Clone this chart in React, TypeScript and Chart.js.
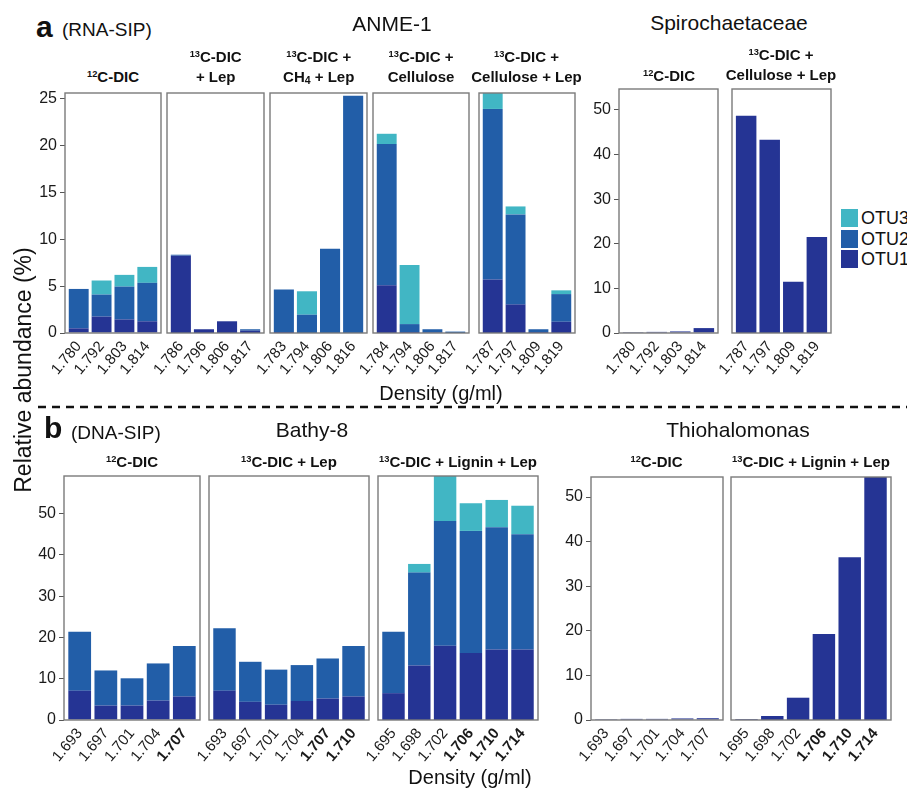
import React, { useEffect, useRef } from "react";
import { Chart, registerables } from "chart.js";
Chart.register(...registerables);

const FONT = '"Liberation Sans", Arial, Helvetica, sans-serif';
const C_OTU1 = "#253494";
const C_OTU2 = "#225ea8";
const C_OTU3 = "#41b6c4";

// ---------- ANME-1 (RNA-SIP) ----------
const anmeA_labels = ["1.780", "1.792", "1.803", "1.814"];
const anmeA_otu1 = [0.5, 1.75, 1.45, 1.25];
const anmeA_otu2 = [4.2, 2.35, 3.5, 4.1];
const anmeA_otu3 = [0, 1.5, 1.25, 1.7];

const anmeB_labels = ["1.786", "1.796", "1.806", "1.817"];
const anmeB_otu1 = [8.25, 0.4, 1.25, 0.25];
const anmeB_otu2 = [0.1, 0, 0, 0.15];
const anmeB_otu3 = [0, 0, 0, 0];

const anmeC_labels = ["1.783", "1.794", "1.806", "1.816"];
const anmeC_otu1 = [0.1, 0, 0, 0];
const anmeC_otu2 = [4.55, 1.95, 9.0, 25.3];
const anmeC_otu3 = [0, 2.5, 0, 0];

const anmeD_labels = ["1.784", "1.794", "1.806", "1.817"];
const anmeD_otu1 = [5.1, 0.1, 0.05, 0];
const anmeD_otu2 = [15.05, 0.85, 0.35, 0.15];
const anmeD_otu3 = [1.1, 6.3, 0, 0];

const anmeE_labels = ["1.787", "1.797", "1.809", "1.819"];
const anmeE_otu1 = [5.7, 3.05, 0.1, 1.2];
const anmeE_otu2 = [18.2, 9.6, 0.3, 2.95];
const anmeE_otu3 = [2.6, 0.85, 0, 0.4];

// ---------- Spirochaetaceae (RNA-SIP) ----------
const spiroA_labels = ["1.780", "1.792", "1.803", "1.814"];
const spiroA_otu1 = [0.2, 0.25, 0.35, 1.1];
const spiroB_labels = ["1.787", "1.797", "1.809", "1.819"];
const spiroB_otu1 = [48.7, 43.3, 11.5, 21.5];

// ---------- Bathy-8 (DNA-SIP) ----------
const bathyA_labels = ["1.693", "1.697", "1.701", "1.704", "1.707"];
const bathyA_otu1 = [7.1, 3.5, 3.5, 4.7, 5.7];
const bathyA_otu2 = [14.3, 8.5, 6.6, 9.0, 12.2];
const bathyA_bold = [4];

const bathyB_labels = ["1.693", "1.697", "1.701", "1.704", "1.707", "1.710"];
const bathyB_otu1 = [7.1, 4.4, 3.7, 4.6, 5.2, 5.7];
const bathyB_otu2 = [15.1, 9.7, 8.5, 8.7, 9.7, 12.2];
const bathyB_bold = [4, 5];

const bathyC_labels = ["1.695", "1.698", "1.702", "1.706", "1.710", "1.714"];
const bathyC_otu1 = [6.5, 13.2, 18.0, 16.2, 17.1, 17.1];
const bathyC_otu2 = [14.9, 22.5, 30.2, 29.6, 29.6, 27.9];
const bathyC_otu3 = [0, 2.1, 11.5, 6.7, 6.6, 6.9];
const bathyC_bold = [3, 4, 5];

// ---------- Thiohalomonas (DNA-SIP) ----------
const thioA_labels = ["1.693", "1.697", "1.701", "1.704", "1.707"];
const thioA_otu1 = [0.2, 0.25, 0.25, 0.35, 0.4];
const thioB_labels = ["1.695", "1.698", "1.702", "1.706", "1.710", "1.714"];
const thioB_otu1 = [0.15, 0.9, 5.0, 19.3, 36.5, 56.0];
const thioB_bold = [3, 4, 5];

const zeros = (n: number) => new Array(n).fill(0);

type Spec = {
  x0: number; x1: number; y0: number; y1: number;
  ymax: number; step: number; showY: boolean;
  labels: string[]; otu1: number[]; otu2: number[]; otu3: number[]; bold: number[];
};

const YW = 44, PT = 3, PR = 3, XH = 75;

const panels: Spec[] = [
  { x0: 65, x1: 161.3, y0: 92.7, y1: 332.5, ymax: 25.6, step: 5, showY: true, labels: anmeA_labels, otu1: anmeA_otu1, otu2: anmeA_otu2, otu3: anmeA_otu3, bold: [] },
  { x0: 167.3, x1: 264, y0: 92.7, y1: 332.5, ymax: 25.6, step: 5, showY: false, labels: anmeB_labels, otu1: anmeB_otu1, otu2: anmeB_otu2, otu3: anmeB_otu3, bold: [] },
  { x0: 270.3, x1: 367, y0: 92.7, y1: 332.5, ymax: 25.6, step: 5, showY: false, labels: anmeC_labels, otu1: anmeC_otu1, otu2: anmeC_otu2, otu3: anmeC_otu3, bold: [] },
  { x0: 373, x1: 469.3, y0: 92.7, y1: 332.5, ymax: 25.6, step: 5, showY: false, labels: anmeD_labels, otu1: anmeD_otu1, otu2: anmeD_otu2, otu3: anmeD_otu3, bold: [] },
  { x0: 478.5, x1: 574.5, y0: 92.7, y1: 332.5, ymax: 25.6, step: 5, showY: false, labels: anmeE_labels, otu1: anmeE_otu1, otu2: anmeE_otu2, otu3: anmeE_otu3, bold: [] },
  { x0: 619.3, x1: 718.7, y0: 89.3, y1: 333.3, ymax: 54.7, step: 10, showY: true, labels: spiroA_labels, otu1: spiroA_otu1, otu2: zeros(4), otu3: zeros(4), bold: [] },
  { x0: 731.7, x1: 830.7, y0: 89.3, y1: 333.3, ymax: 54.7, step: 10, showY: false, labels: spiroB_labels, otu1: spiroB_otu1, otu2: zeros(4), otu3: zeros(4), bold: [] },
  { x0: 64, x1: 200, y0: 476, y1: 720, ymax: 59.1, step: 10, showY: true, labels: bathyA_labels, otu1: bathyA_otu1, otu2: bathyA_otu2, otu3: zeros(5), bold: bathyA_bold },
  { x0: 209, x1: 369.3, y0: 476, y1: 720, ymax: 59.1, step: 10, showY: false, labels: bathyB_labels, otu1: bathyB_otu1, otu2: bathyB_otu2, otu3: zeros(6), bold: bathyB_bold },
  { x0: 378.3, x1: 538.3, y0: 476, y1: 720, ymax: 59.1, step: 10, showY: false, labels: bathyC_labels, otu1: bathyC_otu1, otu2: bathyC_otu2, otu3: bathyC_otu3, bold: bathyC_bold },
  { x0: 590.7, x1: 722.3, y0: 477, y1: 720, ymax: 54.5, step: 10, showY: true, labels: thioA_labels, otu1: thioA_otu1, otu2: zeros(5), otu3: zeros(5), bold: [] },
  { x0: 731, x1: 891, y0: 477, y1: 720, ymax: 54.5, step: 10, showY: false, labels: thioB_labels, otu1: thioB_otu1, otu2: zeros(6), otu3: zeros(6), bold: thioB_bold },
];

const boxPlugin = {
  id: "panelBox",
  afterDatasetsDraw(c: any) {
    const a = c.chartArea;
    const ctx = c.ctx;
    ctx.save();
    ctx.strokeStyle = "#7a7a7a";
    ctx.lineWidth = 1.4;
    ctx.strokeRect(a.left, a.top, a.right - a.left, a.bottom - a.top);
    ctx.restore();
  },
};

function Panel({ spec }: { spec: Spec }) {
  const ref = useRef<HTMLCanvasElement>(null);
  const left = Math.round(spec.x0 - YW);
  const top = Math.round(spec.y0 - PT);
  const w = Math.round(spec.x1 - spec.x0) + YW + PR;
  const h = Math.round(spec.y1 - spec.y0) + PT + XH;
  useEffect(() => {
    const n = spec.labels.length;
    const mk = (label: string, vals: number[], color: string) => ({
      label,
      data: vals.map((v, i) => ({ x: i, y: v })),
      backgroundColor: color,
      borderWidth: 0,
      barPercentage: 0.87,
      categoryPercentage: 1,
      clip: 0,
    });
    const chart = new Chart(ref.current as HTMLCanvasElement, {
      type: "bar",
      data: {
        datasets: [
          mk("OTU1", spec.otu1, C_OTU1),
          mk("OTU2", spec.otu2, C_OTU2),
          mk("OTU3", spec.otu3, C_OTU3),
        ] as any,
      },
      options: {
        responsive: false,
        animation: false,
        devicePixelRatio: 1,
        layout: { padding: { top: PT, right: PR, left: 0, bottom: 0 } },
        plugins: { legend: { display: false }, tooltip: { enabled: false } },
        scales: {
          x: {
            type: "linear",
            stacked: true,
            offset: false,
            bounds: "data",
            min: -0.6,
            max: n - 0.4,
            afterBuildTicks: (s: any) => {
              s.ticks = spec.labels.map((_, i) => ({ value: i }));
              s.min = -0.6;
              s.max = n - 0.4;
            },
            afterFit: (s: any) => {
              s.height = XH;
              s.paddingLeft = 0;
              s.paddingRight = 0;
            },
            grid: { display: false, drawTicks: false, offset: false },
            border: { display: false },
            ticks: {
              autoSkip: false,
              minRotation: 50,
              maxRotation: 50,
              padding: 5,
              color: "#1a1a1a",
              callback: (_v: any, i: number) => spec.labels[i],
              font: (ctx: any) => ({
                family: FONT,
                size: 15,
                weight: spec.bold.includes(ctx.index) ? "bold" : "normal",
              }),
            },
          },
          y: {
            stacked: true,
            min: 0,
            max: spec.ymax,
            afterFit: (s: any) => {
              s.width = YW;
              s.paddingTop = 0;
              s.paddingBottom = 0;
            },
            grid: {
              display: spec.showY,
              drawOnChartArea: false,
              drawTicks: true,
              tickLength: 5,
              color: "#555",
              lineWidth: 1,
            },
            border: { display: false },
            ticks: {
              display: spec.showY,
              stepSize: spec.step,
              includeBounds: false,
              padding: 3,
              color: "#1a1a1a",
              font: { family: FONT, size: 16 },
            },
          },
        },
      } as any,
      plugins: [boxPlugin],
    });
    return () => chart.destroy();
  }, []);
  return (
    <canvas
      ref={ref}
      width={w}
      height={h}
      style={{ position: "absolute", left, top, width: w, height: h }}
    />
  );
}

const supStyle: React.CSSProperties = { fontSize: "0.62em", verticalAlign: "0.55em", lineHeight: 0 };
const subStyle: React.CSSProperties = { fontSize: "0.7em", verticalAlign: "-0.15em", lineHeight: 0 };
const S12 = <sup style={supStyle}>12</sup>;
const S13 = <sup style={supStyle}>13</sup>;

function Txt({ x, y, children, size = 15, bold = false, anchor = "center" }: any) {
  const tx = anchor === "center" ? "-50%" : anchor === "left" ? "0" : "-100%";
  return (
    <div
      style={{
        position: "absolute",
        left: x,
        top: y,
        transform: `translate(${tx}, -50%)`,
        fontFamily: FONT,
        fontSize: size,
        fontWeight: bold ? "bold" : "normal",
        whiteSpace: "nowrap",
        textAlign: "center",
        lineHeight: "20px",
        color: "#111",
      }}
    >
      {children}
    </div>
  );
}

export default function App() {
  return (
    <div
      style={{
        position: "absolute",
        left: 0,
        top: 0,
        width: 907,
        height: 795,
        overflow: "hidden",
        background: "#fff",
      }}
    >
      {panels.map((p, i) => (
        <Panel key={i} spec={p} />
      ))}

      {/* panel a header */}
      <Txt x={36} y={27} size={30} bold anchor="left">a</Txt>
      <Txt x={62} y={30} size={19} anchor="left">(RNA-SIP)</Txt>
      <Txt x={392} y={24} size={21}>ANME-1</Txt>
      <Txt x={729} y={23} size={21}>Spirochaetaceae</Txt>

      <Txt x={113} y={77} bold>{S12}C-DIC</Txt>
      <Txt x={215.7} y={67} bold>{S13}C-DIC<br />+ Lep</Txt>
      <Txt x={318.7} y={67} bold>{S13}C-DIC +<br />CH<sub style={subStyle}>4</sub> + Lep</Txt>
      <Txt x={421} y={67} bold>{S13}C-DIC +<br />Cellulose</Txt>
      <Txt x={526.5} y={67} bold>{S13}C-DIC +<br />Cellulose + Lep</Txt>
      <Txt x={669} y={76} bold>{S12}C-DIC</Txt>
      <Txt x={781} y={65} bold>{S13}C-DIC +<br />Cellulose + Lep</Txt>

      <Txt x={441} y={393} size={20}>Density (g/ml)</Txt>

      {/* legend */}
      {[
        ["OTU3", C_OTU3, 218],
        ["OTU2", C_OTU2, 238.5],
        ["OTU1", C_OTU1, 259],
      ].map(([t, c, y]: any) => (
        <React.Fragment key={t}>
          <div style={{ position: "absolute", left: 841, top: y - 9, width: 17, height: 18, background: c }} />
          <Txt x={861} y={y} size={18} anchor="left">{t}</Txt>
        </React.Fragment>
      ))}

      {/* dashed separator */}
      <svg style={{ position: "absolute", left: 0, top: 0 }} width={907} height={795}>
        <line x1={38} y1={407} x2={907} y2={407} stroke="#111" strokeWidth={2.5} strokeDasharray="8 6" />
      </svg>

      {/* panel b header */}
      <Txt x={44} y={428} size={30} bold anchor="left">b</Txt>
      <Txt x={71} y={433} size={19} anchor="left">(DNA-SIP)</Txt>
      <Txt x={312} y={430} size={21}>Bathy-8</Txt>
      <Txt x={738} y={430} size={21}>Thiohalomonas</Txt>

      <Txt x={132} y={462} bold>{S12}C-DIC</Txt>
      <Txt x={289} y={462} bold>{S13}C-DIC + Lep</Txt>
      <Txt x={458} y={462} bold>{S13}C-DIC + Lignin + Lep</Txt>
      <Txt x={656.5} y={462} bold>{S12}C-DIC</Txt>
      <Txt x={811} y={462} bold>{S13}C-DIC + Lignin + Lep</Txt>

      <Txt x={470} y={777} size={20}>Density (g/ml)</Txt>

      {/* y axis title */}
      <div
        style={{
          position: "absolute",
          left: 23,
          top: 370,
          transform: "translate(-50%, -50%) rotate(-90deg)",
          fontFamily: FONT,
          fontSize: 23,
          whiteSpace: "nowrap",
          color: "#111",
        }}
      >
        Relative abundance (%)
      </div>
    </div>
  );
}
